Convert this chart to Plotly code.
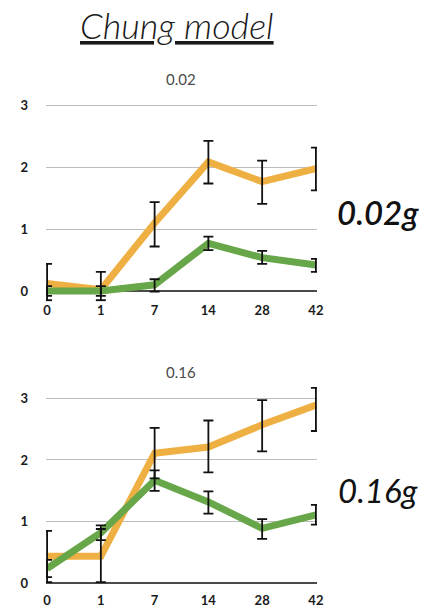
import plotly.graph_objects as go

days = ["0", "1", "7", "14", "28", "42"]
xpos = [0, 1, 2, 3, 4, 5]

# Panel 0.02 g
orange_002 = [0.12, 0.02, 1.10, 2.09, 1.77, 1.98]
orange_002_plus = [0.32, 0.29, 0.34, 0.34, 0.34, 0.34]
orange_002_minus = [0.27, 0.17, 0.38, 0.35, 0.36, 0.35]
green_002 = [0.00, 0.00, 0.10, 0.77, 0.54, 0.42]
green_002_plus = [0.08, 0.08, 0.09, 0.11, 0.11, 0.10]
green_002_minus = [0.08, 0.08, 0.11, 0.11, 0.10, 0.11]

# Panel 0.16 g
orange_016 = [0.44, 0.44, 2.11, 2.21, 2.57, 2.89]
orange_016_plus = [0.41, 0.44, 0.41, 0.43, 0.40, 0.28]
orange_016_minus = [0.42, 0.42, 0.41, 0.41, 0.43, 0.42]
green_016 = [0.24, 0.82, 1.67, 1.32, 0.89, 1.11]
green_016_plus = [0.14, 0.12, 0.16, 0.17, 0.15, 0.16]
green_016_minus = [0.14, 0.12, 0.17, 0.19, 0.17, 0.16]

ORANGE = "#EFB043"
GREEN = "#68A64A"

fig = go.Figure()

series = [
    (orange_002, orange_002_plus, orange_002_minus, ORANGE, 1),
    (green_002, green_002_plus, green_002_minus, GREEN, 1),
    (orange_016, orange_016_plus, orange_016_minus, ORANGE, 2),
    (green_016, green_016_plus, green_016_minus, GREEN, 2),
]

# lines first
for y, plus, minus, color, axis in series:
    fig.add_trace(go.Scatter(
        x=xpos, y=y, mode="lines",
        line=dict(color=color, width=7),
        xaxis="x" if axis == 1 else "x2",
        yaxis="y" if axis == 1 else "y2",
        showlegend=False, hoverinfo="skip",
    ))
# error bars on top
for y, plus, minus, color, axis in series:
    fig.add_trace(go.Scatter(
        x=xpos, y=y, mode="markers",
        marker=dict(size=0.1, color="rgba(0,0,0,0)"),
        error_y=dict(type="data", symmetric=False, array=plus, arrayminus=minus,
                     color="#111111", thickness=1.8, width=5),
        xaxis="x" if axis == 1 else "x2",
        yaxis="y" if axis == 1 else "y2",
        showlegend=False, hoverinfo="skip",
    ))

tickfont = dict(family="Lato", size=13, color="#1A1A1A", weight="bold")

xcommon = dict(range=[-0.02, 5.02], tickvals=xpos, ticktext=days, showgrid=False,
               zeroline=False, showline=False, ticks="", tickfont=tickfont,
               fixedrange=True)
ycommon = dict(tickvals=[0, 1, 2, 3], showgrid=True, gridcolor="#BDBDBD", gridwidth=1.3,
               zeroline=True, zerolinecolor="#4A4A4A", zerolinewidth=1.5,
               showline=False, ticks="", tickfont=tickfont, ticklabelstandoff=17,
               fixedrange=True)

fig.update_layout(
    width=427, height=607,
    margin=dict(l=46, r=110, t=0, b=0),
    paper_bgcolor="white", plot_bgcolor="white",
    xaxis=dict(domain=[0, 1], anchor="y", **xcommon),
    yaxis=dict(domain=[0.5033, 0.8463], range=[-0.17, 3.2], anchor="x", **ycommon),
    xaxis2=dict(domain=[0, 1], anchor="y2", **xcommon),
    yaxis2=dict(domain=[0.0269, 0.3743], range=[-0.12, 3.3], anchor="x2", **ycommon),
)

annos = [
    dict(text="<i><u>Chung model</u></i>", x=177, y=25, size=36, color="#1A1A1A", weight=300),
    dict(text="0.02", x=181, y=79, size=15, color="#4A4A4A", weight="normal"),
    dict(text="0.16", x=181, y=372, size=15, color="#4A4A4A", weight="normal"),
    dict(text="<i>0.02g</i>", x=378, y=212, size=33, color="#111111", weight=600),
    dict(text="<i>0.16g</i>", x=378, y=490, size=33, color="#111111", weight="normal"),
]
for a in annos:
    fig.add_annotation(
        text=a["text"], xref="paper", yref="paper",
        x=(a["x"] - 46) / (427 - 46 - 110), y=1 - a["y"] / 607,
        xanchor="center", yanchor="middle", showarrow=False,
        font=dict(family="Lato", size=a["size"], color=a["color"], weight=a["weight"]),
    )

fig.write_html("out.html", config={"displayModeBar": False},
               post_script="document.body.style.margin='0px';document.body.style.padding='0px';")
